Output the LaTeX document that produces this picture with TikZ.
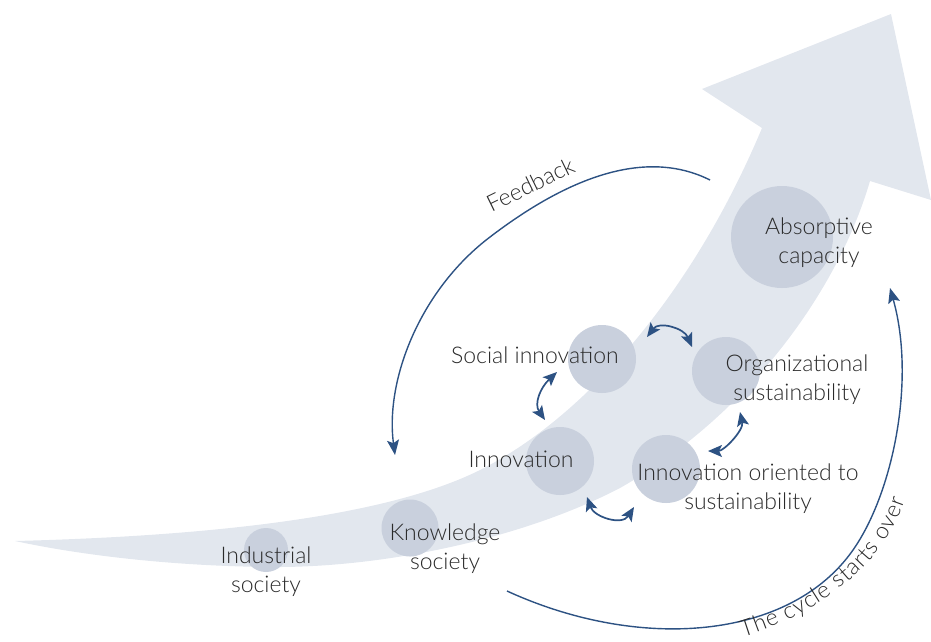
\documentclass[tikz,border=0pt]{standalone}
\usepackage{fontspec}
\setmainfont{Lato}[UprightFont={* Light}]
\usetikzlibrary{arrows.meta,decorations.text}
\definecolor{bandc}{HTML}{E2E7EE}
\definecolor{circc}{HTML}{C9D0DD}
\definecolor{arrc}{HTML}{2D5283}
\definecolor{txtc}{HTML}{2A2A2A}
\tikzset{
  myhead/.tip={Stealth[length=14pt,width=12pt,inset=3pt]},
  bighead/.tip={Stealth[length=15pt,width=12pt,inset=3pt]},
  disc/.style={circle,fill=circc,inner sep=0pt},
  lbl/.style={text=txtc,font=\fontsize{23}{29}\selectfont,inner sep=0pt,align=center},
  dbl/.style={draw=arrc,line width=1.7pt,myhead-myhead},
  bigarc/.style={draw=arrc,line width=1.4pt,-bighead},
}
\begin{document}
\begin{tikzpicture}[x=1pt,y=-1pt]
\useasboundingbox (0,0) rectangle (931,641);
% big arrow band
\fill[bandc] (15,541) .. controls (250,535) and (400,510) .. (480,470)
  .. controls (580,420) and (690,300) .. (762,128) -- (702,89) -- (891,14)
  -- (931,200) -- (870,181) .. controls (835,300) and (740,420) .. (620,488)
  .. controls (520,540) and (380,568) .. (270,567)
  .. controls (170,566) and (80,555) .. (15,541) -- cycle;
% circles
\node[disc,minimum size=44pt] (ind) at (266,550) {};
\node[disc,minimum size=57pt] (know) at (410,528) {};
\node[disc,minimum size=68pt] (inno) at (560,461) {};
\node[disc,minimum size=68pt] (soc) at (602,359) {};
\node[disc,minimum size=68pt] (org) at (726,371) {};
\node[disc,minimum size=68pt] (ios) at (666,469) {};
\node[disc,minimum size=102pt] (abs) at (782,237) {};
% double arrows
\coordinate (a1s) at (647,337); \coordinate (a1e) at (692,347);
\coordinate (a2s) at (557,372); \coordinate (a2e) at (545,420);
\coordinate (a3s) at (587,497); \coordinate (a3e) at (634,507);
\coordinate (a4s) at (708,451); \coordinate (a4e) at (740,412);
\draw[dbl] (a1s) .. controls (659,321) and (684,328) .. (a1e);
\draw[dbl] (a2s) .. controls (540,388) and (534,404) .. (a2e);
\draw[dbl] (a3s) .. controls (594,517) and (622,526) .. (a3e);
\draw[dbl] (a4s) .. controls (724,451) and (744,430) .. (a4e);
% feedback arc
\coordinate (fbs) at (710,180); \coordinate (fbe) at (395,455);
\draw[bigarc] (fbs) .. controls (650,150) and (575,172) .. (490,237)
  .. controls (420,290) and (385,380) .. (fbe);
% cycle arc
\coordinate (cys) at (507,591); \coordinate (cye) at (890,288);
\draw[bigarc] (cys) .. controls (640,652) and (790,640) .. (853,550)
  .. controls (893,493) and (916,380) .. (cye);
% labels
\node[lbl,rotate=26,anchor=base] (fbl) at (534,192) {Feedback};
\node[lbl,anchor=base] (socl) at (535,363) {Social innovation};
\node[lbl,anchor=base] (innol) at (521,467) {Innovation};
\node[lbl] (orgl) at (797,380) {Organizational\\sustainability};
\node[lbl] (iosl) at (748,489) {Innovation oriented to\\sustainability};
\node[lbl] (absl) at (819,243) {Absorptive\\capacity};
\node[lbl] (knowl) at (445,549) {Knowledge\\society};
\node[lbl] (indl) at (266,572) {Industrial\\society};
\coordinate (cts) at (743,637); \coordinate (cte) at (905,500);
\begin{scope}
\fontsize{23}{29}\selectfont
\path[decorate,decoration={text along path,text={The cycle starts over},text align=fit to path,text color=txtc}]
  (cts) .. controls (798,620) and (878,580) .. (cte);
\end{scope}
\end{tikzpicture}
\end{document}
